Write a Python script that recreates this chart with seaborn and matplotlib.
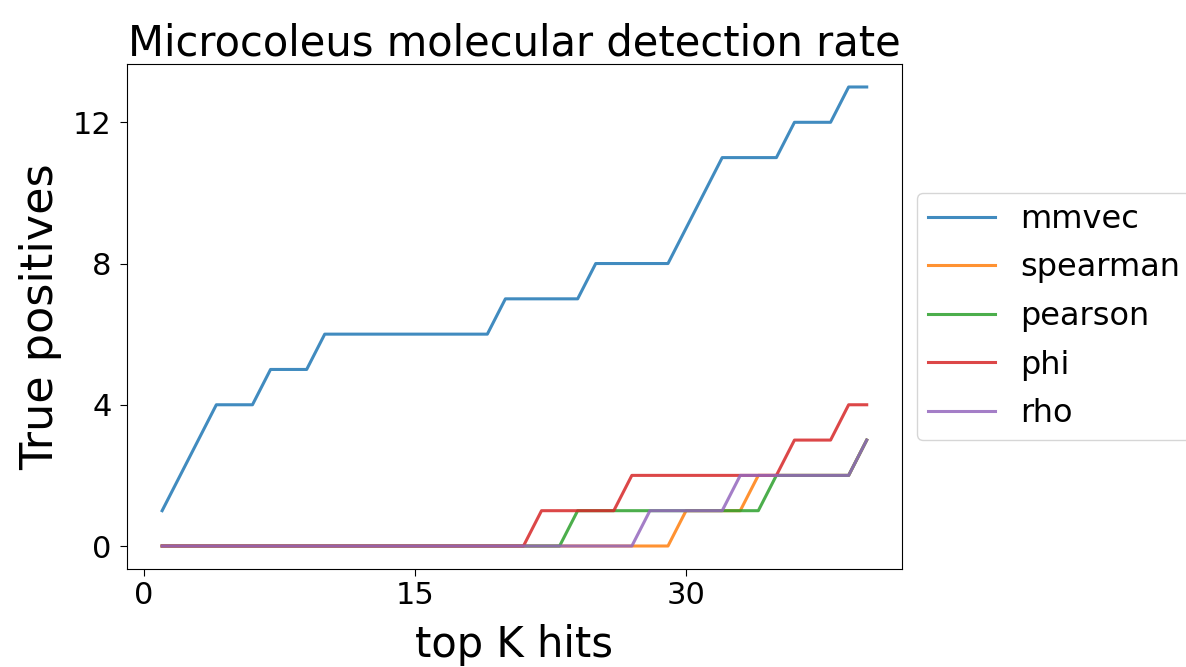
import numpy as np
import pandas as pd
import matplotlib
matplotlib.use("Agg")
import matplotlib.pyplot as plt
import seaborn as sns

# top K hits and the cumulative true positives for each method
top_k = list(range(1, 41))
mmvec = [1, 2, 3, 4, 4, 4, 5, 5, 5, 6, 6, 6, 6, 6, 6, 6, 6, 6, 6, 7,
         7, 7, 7, 7, 8, 8, 8, 8, 8, 9, 10, 11, 11, 11, 11, 12, 12, 12, 13, 13]
spearman = [0] * 29 + [1, 1, 1, 1, 2, 2, 2, 2, 2, 2, 3]
pearson = [0] * 23 + [1] * 11 + [2, 2, 2, 2, 2, 3]
phi = [0] * 21 + [1] * 5 + [2] * 9 + [3, 3, 3, 4, 4]
rho = [0] * 27 + [1] * 5 + [2] * 7 + [3]

methods = ["mmvec", "spearman", "pearson", "phi", "rho"]
series = [mmvec, spearman, pearson, phi, rho]

df = pd.DataFrame({
    "K": top_k * len(methods),
    "tp": sum(series, []),
    "method": np.repeat(methods, len(top_k)),
})

fig = plt.figure(figsize=(11.86, 6.67), dpi=100)
ax = fig.add_axes([0.107, 0.147, 0.6535, 0.757])

sns.lineplot(data=df, x="K", y="tp", hue="method", hue_order=methods,
             palette="tab10", linewidth=2.2, alpha=0.85, ax=ax)

ax.set_xticks([0, 15, 30])
ax.set_yticks([0, 4, 8, 12])
ax.tick_params(labelsize=22, length=5)
ax.tick_params(axis="y", pad=6)
ax.set_xlabel("top K hits", fontsize=30, labelpad=10)
ax.set_ylabel("True positives", fontsize=32, labelpad=8)
ax.set_title("Microcoleus molecular detection rate", fontsize=30, pad=5)

ax.legend(loc="center left", bbox_to_anchor=(1.019, 0.5), borderaxespad=0,
          fontsize=23, handlelength=2.1, handletextpad=0.8,
          labelspacing=0.55, borderpad=0.35)

fig.savefig("out.png", dpi=100)
